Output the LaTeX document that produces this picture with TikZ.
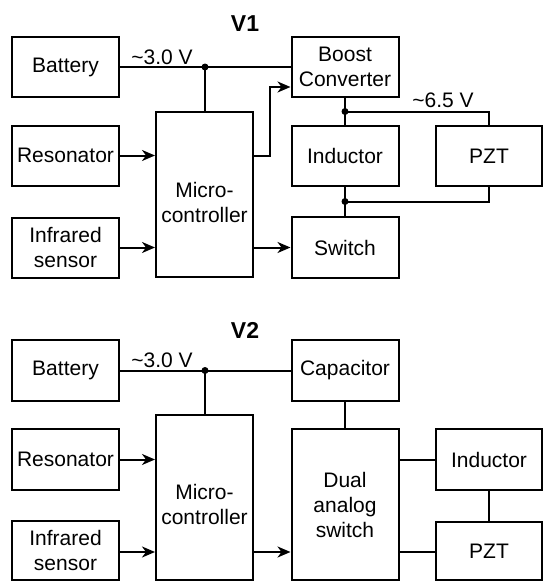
\documentclass[tikz,border=0pt]{standalone}
\usepackage{fontspec}
\setmainfont{Liberation Sans}
\usetikzlibrary{arrows.meta,calc}
\begin{document}
\begin{tikzpicture}[x=1pt,y=-1pt,
  box/.style={draw, line width=2pt, inner sep=0pt, align=center, font=\fontsize{21}{25}\selectfont},
  txt/.style={inner sep=0pt, align=center, font=\fontsize{21}{25}\selectfont},
  wire/.style={line width=2pt},
  arr/.style={line width=2pt, -{Stealth[length=13pt,width=11pt,inset=4pt]}},
  dot/.style={circle, fill, inner sep=0pt, minimum size=7pt},
  ttl/.style={inner sep=0pt, font=\fontsize{23}{27}\selectfont\bfseries}]
\useasboundingbox (0,0) rectangle (543,581);

% ---------------- V1 ----------------
\node[ttl] (t1) at (245,24) {V1};
\node[box, minimum width=107pt, minimum height=60pt] (bat1) at (65.5,67) {Battery};
\node[box, minimum width=107pt, minimum height=60pt] (res1) at (65.5,155.5) {Resonator};
\node[box, minimum width=107pt, minimum height=60pt] (ir1) at (65.5,247.5) {Infrared\\sensor};
\node[box, minimum width=97pt, minimum height=165pt] (mc1) at (204.5,194.5) {};
\node[txt] (mc1t) at (204.5,202) {Micro-\\controller};
\node[box, minimum width=107pt, minimum height=60pt] (boost) at (345,67) {Boost\\Converter};
\node[box, minimum width=107pt, minimum height=60pt] (ind1) at (345,156) {Inductor};
\node[box, minimum width=106pt, minimum height=60pt] (pzt1) at (489,156) {PZT};
\node[box, minimum width=107pt, minimum height=61pt] (sw1) at (345,247.5) {Switch};

\draw[wire] (bat1.east) -- (bat1.east -| boost.west);
\node[dot] (j1) at (205,67) {};
\node[txt] (v30a) at (162,57) {\textasciitilde 3.0 V};
\draw[wire] (j1.center) -- (j1.center |- mc1.north);
\draw[arr] (res1.east) -- (res1.east -| mc1.west);
\draw[arr] (ir1.east) -- (ir1.east -| mc1.west);
\draw[arr] (mc1.east |- res1.east) -- ++(16,0) |- ([yshift=-20pt]boost.west);
\draw[arr] (mc1.east |- ir1.east) -- (ir1.east -| sw1.west);
\draw[wire] (boost.south) -- (ind1.north);
\node[dot] (j2) at ($(boost.south)!0.5!(ind1.north)$) {};
\draw[wire] (j2.center) -| (pzt1.north);
\node[txt] (v65) at (443,100) {\textasciitilde 6.5 V};
\draw[wire] (ind1.south) -- (sw1.north);
\node[dot] (j3) at ($(ind1.south)!0.5!(sw1.north)$) {};
\draw[wire] (j3.center) -| (pzt1.south);

% ---------------- V2 ----------------
\node[ttl] (t2) at (245,330) {V2};
\node[box, minimum width=107pt, minimum height=61pt] (bat2) at (65.5,370.5) {Battery};
\node[box, minimum width=107pt, minimum height=61pt] (res2) at (65.5,459.5) {Resonator};
\node[box, minimum width=107pt, minimum height=59pt] (ir2) at (65.5,550.5) {Infrared\\sensor};
\node[box, minimum width=97pt, minimum height=165pt] (mc2) at (204.5,497.5) {};
\node[txt] (mc2t) at (204.5,504) {Micro-\\controller};
\node[box, minimum width=107pt, minimum height=61pt] (cap2) at (345,370.5) {Capacitor};
\node[box, minimum width=107pt, minimum height=151pt] (dual) at (345,504.5) {Dual\\analog\\switch};
\node[box, minimum width=106pt, minimum height=61pt] (ind2) at (489,459.5) {Inductor};
\node[box, minimum width=106pt, minimum height=58pt] (pzt2) at (489,551) {PZT};

\draw[wire] (bat2.east) -- (bat2.east -| cap2.west);
\node[dot] (j4) at (205,370.5) {};
\node[txt] (v30b) at (162,360) {\textasciitilde 3.0 V};
\draw[wire] (j4.center) -- (j4.center |- mc2.north);
\draw[arr] (res2.east) -- (res2.east -| mc2.west);
\draw[arr] (ir2.east |- 0,552) -- (mc2.west |- 0,552);
\draw[arr] (mc2.east |- 0,552) -- (dual.west |- 0,552);
\draw[wire] (cap2.south) -- (dual.north);
\draw[wire] (dual.east |- ind2.west) -- (ind2.west);
\draw[wire] (dual.east |- 0,552) -- (pzt2.west |- 0,552);
\draw[wire] (ind2.south) -- (pzt2.north);
\end{tikzpicture}
\end{document}
